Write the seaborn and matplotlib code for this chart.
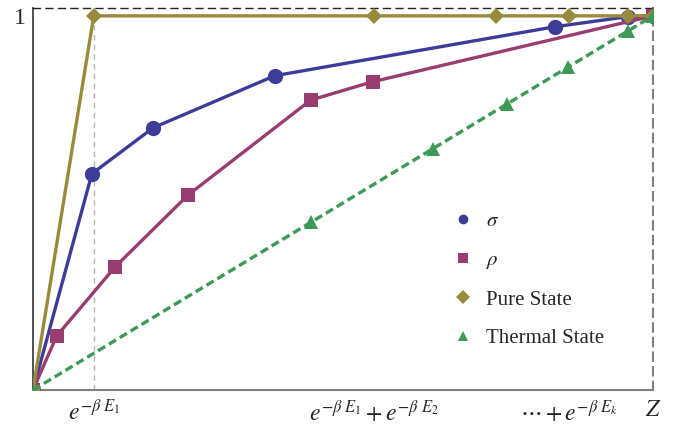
import matplotlib
matplotlib.use("Agg")
import matplotlib.pyplot as plt
import seaborn as sns
import pandas as pd
from matplotlib.lines import Line2D

# ---- data (x normalised so that Z = 1) ----
x_ticks = [0.098, 0.55, 0.746, 0.865, 0.96, 1.0]
x_tick_labels = [r"$e^{-\beta\ E_1}$", r"$e^{-\beta\ E_1}+e^{-\beta\ E_2}$", "",
                 r"$\cdots+e^{-\beta\ E_k}$", "", r"$Z$"]
y_ticks = [1]
y_tick_labels = ["1"]

sigma_x = [0, 0.095, 0.194, 0.390, 0.842, 0.96, 1.0]
sigma_y = [0, 0.578, 0.701, 0.840, 0.971, 0.998, 1.0]

rho_x = [0, 0.038, 0.133, 0.250, 0.448, 0.548, 1.0]
rho_y = [0, 0.144, 0.330, 0.521, 0.775, 0.824, 1.0]

pure_x = [0, 0.098, 0.55, 0.746, 0.865, 0.96, 1.0]
pure_y = [0, 1, 1, 1, 1, 1, 1]

thermal_x = [0, 0.449, 0.645, 0.764, 0.863, 0.96, 1.0]
thermal_y = [0, 0.449, 0.645, 0.764, 0.863, 0.96, 1.0]

series_names = [r"$\sigma$", r"$\rho$", "Pure State", "Thermal State"]
colors = ["#3d3d99", "#993d71", "#998b3d", "#3d9956"]
markers = ["o", "s", "D", "^"]

sns.set_style("white")
plt.rcParams["font.family"] = ["Liberation Serif", "DejaVu Serif"]
plt.rcParams["mathtext.fontset"] = "stix"

fig = plt.figure(figsize=(6.83, 4.29), dpi=100)
ax = fig.add_axes([33 / 683, 1 - 390 / 429, 620 / 683, 382 / 429])

# reference guide line at E1
ax.plot([x_ticks[0], x_ticks[0]], [0, 1], ls=(0, (4, 3)), color="#b5b5b5", lw=1.0, zorder=1)

data = [(sigma_x, sigma_y), (rho_x, rho_y), (pure_x, pure_y), (thermal_x, thermal_y)]
msizes = [11, 9.5, 8.5, 10]
for (xs, ys), name, c, m, ms in zip(data, series_names, colors, markers, msizes):
    df = pd.DataFrame({"x": xs, "y": ys})
    ls = "--" if name == "Thermal State" else "-"
    sns.lineplot(data=df, x="x", y="y", ax=ax, color=c, lw=2.4, sort=False,
                 marker=m, markersize=ms, markeredgewidth=0, linestyle=ls,
                 dashes=False if ls == "-" else True, legend=False, zorder=3)
    if ls == "--":
        ax.lines[-1].set_linestyle((0, (2.5, 1.3)))

ax.set_xlim(0, 1)
ax.set_ylim(0, 1.021)
ax.set_xlabel("")
ax.set_ylabel("")
ax.set_xticks(x_ticks)
ax.set_xticklabels(x_tick_labels, fontsize=17)
ax.set_yticks(y_ticks)
ax.set_yticklabels(y_tick_labels, fontsize=17)
ax.tick_params(axis="x", direction="in", length=5, width=1, color="#555555", pad=7)
ax.tick_params(axis="y", direction="in", length=6, width=1, color="#555555", pad=5)

for s in ["left", "bottom", "top", "right"]:
    ax.spines[s].set_visible(True)
ax.spines["left"].set_color("#333333")
ax.spines["left"].set_linewidth(1.2)
ax.spines["bottom"].set_color("#808080")
ax.spines["bottom"].set_linewidth(1.5)
ax.spines["top"].set_color("#222222")
ax.spines["top"].set_linewidth(1.0)
ax.spines["top"].set_linestyle((0, (5, 4)))
ax.spines["right"].set_color("#808080")
ax.spines["right"].set_linewidth(1.5)
ax.spines["right"].set_linestyle((0, (4, 3)))

handles = [Line2D([], [], color=c, marker=m, linestyle="none", markersize=7, markeredgewidth=0)
           for c, m in zip(colors, markers)]
ax.legend(handles, series_names, loc="upper left", bbox_to_anchor=(0.6465, 0.516),
          frameon=False, fontsize=15, labelspacing=0.92, handletextpad=0.6,
          handlelength=1.0)

fig.savefig("out.png", dpi=100)
